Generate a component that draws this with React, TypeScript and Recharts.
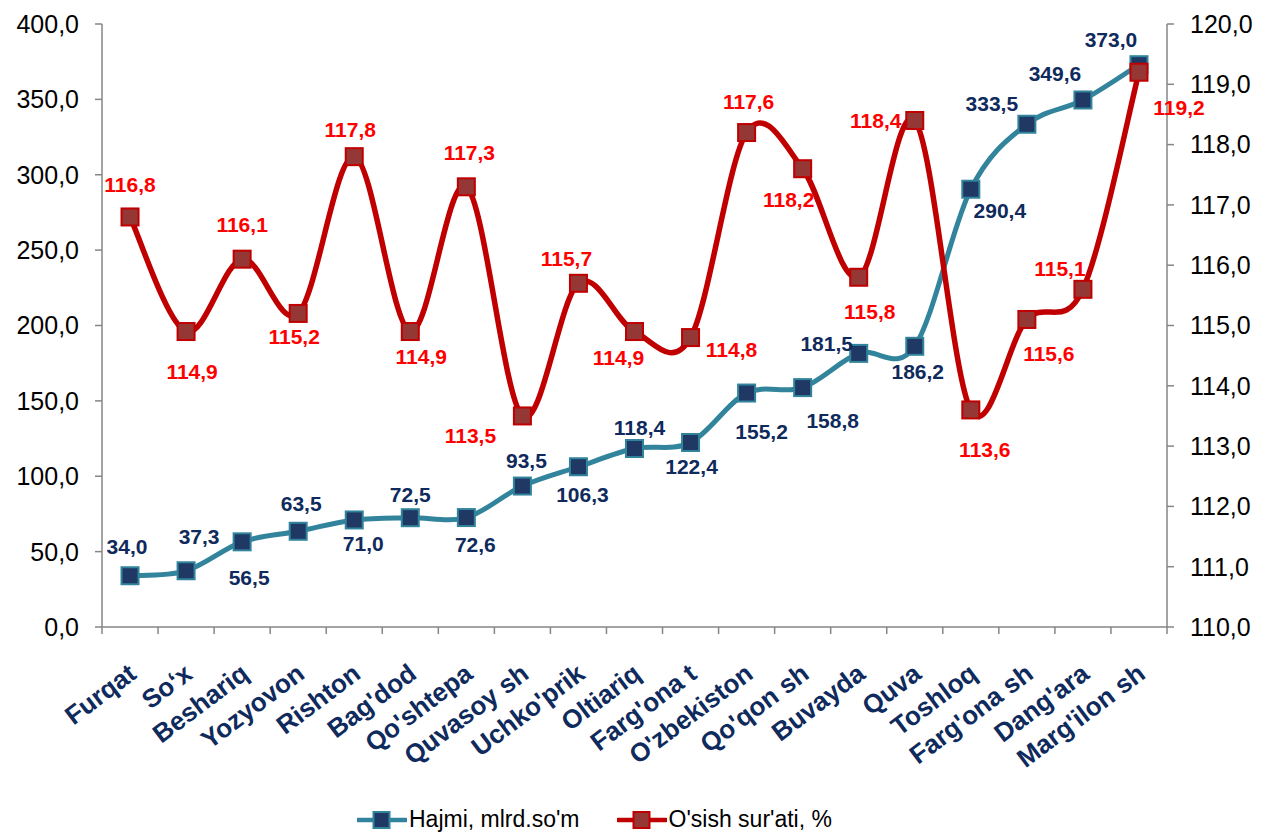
import { LineChart, Line, XAxis, YAxis, Legend, LabelList } from "recharts";

const CATEGORIES = [
  "Furqat", "So‘x", "Beshariq", "Yozyovon", "Rishton", "Bag'dod", "Qo'shtepa",
  "Quvasoy sh", "Uchko'prik", "Oltiariq", "Farg'ona t", "O'zbekiston", "Qo'qon sh",
  "Buvayda", "Quva", "Toshloq", "Farg'ona sh", "Dang'ara", "Marg'ilon sh",
];
const HAJMI = [34.0, 37.3, 56.5, 63.5, 71.0, 72.5, 72.6, 93.5, 106.3, 118.4, 122.4, 155.2, 158.8, 181.5, 186.2, 290.4, 333.5, 349.6, 373.0];
const OSISH = [116.8, 114.9, 116.1, 115.2, 117.8, 114.9, 117.3, 113.5, 115.7, 114.9, 114.8, 118.2, 117.6, 115.8, 118.4, 113.6, 115.1, 115.6, 119.2];
// labels as printed on the chart (a few are swapped relative to the points)
const OSISH_LABELS = ["116,8", "114,9", "116,1", "115,2", "117,8", "114,9", "117,3", "113,5", "115,7", "114,9", "114,8", "117,6", "118,2", "115,8", "118,4", "113,6", "115,6", "115,1", "119,2"];
const LEFT_TICKS = [0, 50, 100, 150, 200, 250, 300, 350, 400];
const RIGHT_TICKS = [110, 111, 112, 113, 114, 115, 116, 117, 118, 119, 120];

const data = CATEGORIES.map((name, i) => ({ name, hajmi: HAJMI[i], osish: OSISH[i] }));

// label placement relative to each marker [dx, dy]
const HAJMI_OFFSETS = [
  [-3, -29], [13, -34], [7, 36], [3, -28], [9, 24], [0, -23], [9, 27], [4, -26], [4, 28], [5, -21],
  [1, 24], [15, 38], [30, 33], [-32, -10], [3, 25], [29, 21], [-35, -21], [-28, -26], [-28, -25],
];
const OSISH_OFFSETS = [
  [0, -32], [6, 40], [0, -35], [-4, 23], [-4, -27], [11, 25], [3, -34], [-52, 20], [-12, -25], [-16, 26],
  [41, 12], [2, -31], [-14, 31], [11, 34], [-39, 0], [14, 40], [22, 34], [-23, -21], [40, 35],
];

const W = 1263;
const H = 834;
const PLOT_LEFT = 102;
const PLOT_RIGHT = 1167;
const BW = (PLOT_RIGHT - PLOT_LEFT) / CATEGORIES.length;
const FONT = "'Liberation Sans', Arial, sans-serif";
const AXIS = "#868686";
const TEAL = "#31849B";
const NAVY = "#1F3864";
const LABEL_NAVY = "#0F2A5C";
const RED = "#C00000";
const MAROON = "#953735";

const fmt = (v: number) => v.toFixed(1).replace(".", ",");

// Excel-like smoothed line (Catmull-Rom through the points)
function smoothCurve(context: any) {
  let pts: number[][] = [];
  return {
    areaStart() {},
    areaEnd() {},
    lineStart() {
      pts = [];
    },
    point(x: number, y: number) {
      pts.push([x, y]);
    },
    lineEnd() {
      const n = pts.length;
      if (!n) return;
      context.moveTo(pts[0][0], pts[0][1]);
      for (let i = 0; i < n - 1; i++) {
        const p0 = pts[Math.max(i - 1, 0)];
        const p1 = pts[i];
        const p2 = pts[i + 1];
        const p3 = pts[Math.min(i + 2, n - 1)];
        context.bezierCurveTo(
          p1[0] + (p2[0] - p0[0]) / 6,
          p1[1] + (p2[1] - p0[1]) / 6,
          p2[0] - (p3[0] - p1[0]) / 6,
          p2[1] - (p3[1] - p1[1]) / 6,
          p2[0],
          p2[1]
        );
      }
    },
  };
}

const squareDot = (fill: string, stroke: string, size: number) => (props: any) => {
  const { cx, cy, index } = props;
  if (cx == null || cy == null) return <g key={index} />;
  return (
    <rect
      key={index}
      x={cx - size / 2}
      y={cy - size / 2}
      width={size}
      height={size}
      fill={fill}
      stroke={stroke}
      strokeWidth={2}
    />
  );
};

const makeLabel = (texts: string[], offsets: number[][], color: string) => (props: any) => {
  const { x, y, index } = props;
  const [dx, dy] = offsets[index];
  return (
    <text
      key={index}
      x={x + dx}
      y={y + dy}
      textAnchor="middle"
      dominantBaseline="central"
      fill={color}
      fontFamily={FONT}
      fontWeight="bold"
      fontSize={21}
    >
      {texts[index]}
    </text>
  );
};

const CategoryTick = (props: any) => {
  const { x, y, payload, index } = props;
  const tx = x + 8;
  const ty = y + 50;
  return (
    <g>
      <line x1={x - BW / 2} x2={x - BW / 2} y1={y} y2={y + 7} stroke={AXIS} strokeWidth={1.5} />
      {index === CATEGORIES.length - 1 && (
        <line x1={x + BW / 2} x2={x + BW / 2} y1={y} y2={y + 7} stroke={AXIS} strokeWidth={1.5} />
      )}
      <text
        x={tx}
        y={ty}
        textAnchor="end"
        transform={`rotate(-37, ${tx}, ${ty})`}
        fill={LABEL_NAVY}
        fontFamily={FONT}
        fontWeight="bold"
        fontSize={26}
      >
        {payload.value}
      </text>
    </g>
  );
};

const LegendIcon = ({ line, fill, stroke }: { line: string; fill: string; stroke: string }) => (
  <svg width={50} height={20} style={{ display: "block" }}>
    <line x1={1} x2={49} y1={10} y2={10} stroke={line} strokeWidth={4.5} strokeLinecap="round" />
    <rect x={16.5} y={2} width={16} height={16} fill={fill} stroke={stroke} strokeWidth={2} />
  </svg>
);

const renderLegend = () => (
  <div style={{ display: "flex", alignItems: "center", fontFamily: FONT, fontSize: 23, color: "#000" }}>
    <LegendIcon line={TEAL} fill={NAVY} stroke={TEAL} />
    <span style={{ marginLeft: 2, marginRight: 37 }}>Hajmi, mlrd.so'm</span>
    <LegendIcon line={RED} fill={MAROON} stroke={RED} />
    <span style={{ marginLeft: 2 }}>O'sish sur'ati, %</span>
  </div>
);

export default function App() {
  return (
    <div style={{ position: "absolute", left: 0, top: 0, width: W, height: H, background: "#fff" }}>
      <LineChart width={W} height={H} data={data} margin={{ top: 24, right: 0, bottom: 0, left: 0 }}>
        <XAxis
          dataKey="name"
          interval={0}
          height={207}
          padding={{ left: BW / 2, right: BW / 2 }}
          tickLine={false}
          tickSize={0}
          tickMargin={0}
          axisLine={{ stroke: AXIS, strokeWidth: 1.5 }}
          tick={<CategoryTick />}
        />
        <YAxis
          yAxisId="left"
          width={102}
          domain={[0, 400]}
          ticks={LEFT_TICKS}
          interval={0}
          tickFormatter={fmt}
          tickSize={7}
          tickMargin={16}
          axisLine={{ stroke: AXIS, strokeWidth: 1.5 }}
          tickLine={{ stroke: AXIS, strokeWidth: 1.5 }}
          tick={{ fill: "#000", fontFamily: FONT, fontSize: 25 }}
        />
        <YAxis
          yAxisId="right"
          orientation="right"
          width={96}
          domain={[110, 120]}
          ticks={RIGHT_TICKS}
          interval={0}
          tickFormatter={fmt}
          tickSize={7}
          tickMargin={16}
          axisLine={{ stroke: AXIS, strokeWidth: 1.5 }}
          tickLine={{ stroke: AXIS, strokeWidth: 1.5 }}
          tick={{ fill: "#000", fontFamily: FONT, fontSize: 25 }}
        />
        <Legend
          layout="horizontal"
          verticalAlign="middle"
          align="center"
          wrapperStyle={{ left: 357, top: 806, width: "auto" }}
          content={renderLegend}
        />
        <Line
          yAxisId="left"
          dataKey="hajmi"
          name="Hajmi, mlrd.so'm"
          type={smoothCurve as any}
          stroke={TEAL}
          strokeWidth={5}
          dot={squareDot(NAVY, TEAL, 17)}
          activeDot={false}
          isAnimationActive={false}
        >
          <LabelList dataKey="hajmi" content={makeLabel(HAJMI.map(fmt), HAJMI_OFFSETS, LABEL_NAVY)} />
        </Line>
        <Line
          yAxisId="right"
          dataKey="osish"
          name="O'sish sur'ati, %"
          type={smoothCurve as any}
          stroke={RED}
          strokeWidth={5.5}
          dot={squareDot(MAROON, RED, 17)}
          activeDot={false}
          isAnimationActive={false}
        >
          <LabelList dataKey="osish" content={makeLabel(OSISH_LABELS, OSISH_OFFSETS, "#FF0000")} />
        </Line>
      </LineChart>
    </div>
  );
}
